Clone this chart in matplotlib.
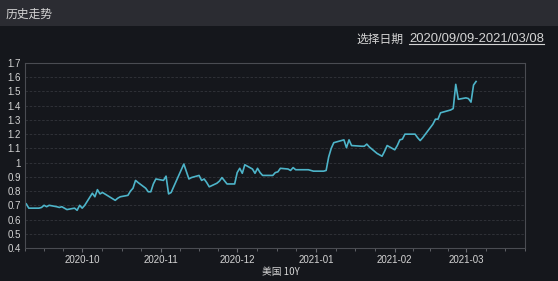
import matplotlib
matplotlib.use('Agg')
import matplotlib.pyplot as plt
import matplotlib.dates as mdates
from matplotlib.lines import Line2D
import numpy as np
import pandas as pd

plt.rcParams['font.family'] = ['Liberation Sans', 'Noto Sans CJK SC']

dates = [
    "2020-09-09", "2020-09-10", "2020-09-11", "2020-09-14", "2020-09-15", "2020-09-16",
    "2020-09-17", "2020-09-18", "2020-09-21", "2020-09-22", "2020-09-23", "2020-09-24",
    "2020-09-25", "2020-09-28", "2020-09-29", "2020-09-30", "2020-10-01", "2020-10-02",
    "2020-10-05", "2020-10-06", "2020-10-07", "2020-10-08", "2020-10-09", "2020-10-14",
    "2020-10-15", "2020-10-16", "2020-10-19", "2020-10-20", "2020-10-21", "2020-10-22",
    "2020-10-23", "2020-10-26", "2020-10-27", "2020-10-28", "2020-10-29", "2020-10-30",
    "2020-11-02", "2020-11-03", "2020-11-04", "2020-11-05", "2020-11-06", "2020-11-09",
    "2020-11-10", "2020-11-12", "2020-11-13", "2020-11-16", "2020-11-17", "2020-11-18",
    "2020-11-19", "2020-11-20", "2020-11-23", "2020-11-24", "2020-11-25", "2020-11-27",
    "2020-11-30", "2020-12-01", "2020-12-02", "2020-12-03", "2020-12-04", "2020-12-07",
    "2020-12-08", "2020-12-09", "2020-12-10", "2020-12-11", "2020-12-14", "2020-12-15",
    "2020-12-16", "2020-12-17", "2020-12-18", "2020-12-21", "2020-12-22", "2020-12-23",
    "2020-12-24", "2020-12-28", "2020-12-29", "2020-12-30", "2020-12-31", "2021-01-04",
    "2021-01-05", "2021-01-06", "2021-01-07", "2021-01-08", "2021-01-11", "2021-01-12",
    "2021-01-13", "2021-01-14", "2021-01-15", "2021-01-19", "2021-01-20", "2021-01-21",
    "2021-01-22", "2021-01-25", "2021-01-26", "2021-01-27", "2021-01-28", "2021-01-29",
    "2021-02-01", "2021-02-02", "2021-02-03", "2021-02-04", "2021-02-05", "2021-02-08",
    "2021-02-09", "2021-02-10", "2021-02-11", "2021-02-12", "2021-02-16", "2021-02-17",
    "2021-02-18", "2021-02-19", "2021-02-22", "2021-02-23", "2021-02-24", "2021-02-25",
    "2021-02-26", "2021-03-01", "2021-03-02", "2021-03-03", "2021-03-04", "2021-03-05",
]
yields_10y = [
    0.71, 0.68, 0.68, 0.68, 0.685, 0.70,
    0.69, 0.70, 0.69, 0.685, 0.69, 0.68,
    0.67, 0.68, 0.665, 0.70, 0.68, 0.70,
    0.785, 0.76, 0.81, 0.78, 0.79, 0.735,
    0.75, 0.76, 0.77, 0.80, 0.82, 0.875,
    0.86, 0.82, 0.795, 0.795, 0.85, 0.885,
    0.875, 0.905, 0.78, 0.79, 0.83, 0.95,
    0.99, 0.885, 0.895, 0.91, 0.875, 0.885,
    0.86, 0.83, 0.855, 0.87, 0.895, 0.85,
    0.85, 0.93, 0.96, 0.925, 0.985, 0.955,
    0.925, 0.96, 0.93, 0.91, 0.91, 0.91,
    0.93, 0.935, 0.96, 0.955, 0.945, 0.965,
    0.95, 0.95, 0.95, 0.945, 0.94, 0.94,
    0.945, 1.04, 1.10, 1.14, 1.155, 1.16,
    1.105, 1.16, 1.12, 1.115, 1.115, 1.13,
    1.11, 1.065, 1.055, 1.045, 1.08, 1.12,
    1.09, 1.12, 1.16, 1.165, 1.20, 1.20,
    1.20, 1.175, 1.155, 1.175, 1.27, 1.305,
    1.305, 1.35, 1.365, 1.37, 1.38, 1.55,
    1.445, 1.455, 1.45, 1.425, 1.545, 1.57,
]
series_name = "美国 10Y"
title = "历史走势"
date_label = "选择日期"
date_range = "2020/09/09-2021/03/08"

bg = '#15171c'
header = '#2b2c32'
txt = '#d4d4d4'

x = pd.to_datetime(dates)

fig = plt.figure(figsize=(5.58, 2.81), dpi=100, facecolor=bg)
fig.patches.append(plt.Rectangle((0, 1 - 26 / 281), 1, 26 / 281, transform=fig.transFigure,
                                 facecolor=header, edgecolor='none', zorder=0))
fig.text(6 / 558, 1 - 14 / 281, title, color=txt, fontsize=8.5, va='center',
         family=['Noto Sans CJK SC'])
fig.text(403 / 558, 1 - 39 / 281, date_label, color=txt, fontsize=8.5, va='center', ha='right',
         family=['Noto Sans CJK SC'])
t = fig.text(409 / 558, 1 - 39 / 281, date_range, color=txt, fontsize=9.4, va='center')

ax = fig.add_axes([25 / 558, 33 / 281, 500 / 558, 185 / 281])
ax.set_facecolor(bg)
ax.plot(x, yields_10y, color='#4db4c9', linewidth=1.2)

ax.set_ylim(0.4, 1.7)
ax.set_yticks(np.arange(0.4, 1.71, 0.1))
ax.set_yticklabels([f"{v:g}" for v in np.round(np.arange(0.4, 1.71, 0.1), 1)])
ax.set_xlim(pd.Timestamp("2020-09-09"), pd.Timestamp("2021-03-08"))

ax.xaxis.set_major_locator(mdates.MonthLocator())
ax.xaxis.set_major_formatter(mdates.DateFormatter('%Y-%m'))
minor = []
for m in pd.date_range("2020-09-01", "2021-03-01", freq='MS'):
    n = m.days_in_month
    for f in (0.25, 0.5, 0.75):
        minor.append(mdates.date2num(m) + f * n)
ax.set_xticks(minor, minor=True)

ax.grid(axis='y', color='#34363c', linestyle=(0, (3, 2)), linewidth=0.6)
for s in ax.spines.values():
    s.set_color('#4a4c52')
    s.set_linewidth(0.8)
ax.tick_params(axis='y', length=0, colors=txt, labelsize=7, pad=3)
ax.tick_params(axis='x', which='major', length=3, color='#6a6c72', colors=txt, labelsize=7, pad=2)
ax.tick_params(axis='x', which='minor', length=2.5, color='#6a6c72')
for lab in ax.get_xticklabels():
    lab.set_color(txt)

fig.text(281 / 558, 1 - 272 / 281, series_name, color=txt, fontsize=7, ha='center', va='center',
         family=['Noto Sans CJK SC'])

fig.canvas.draw()
bb = t.get_window_extent().transformed(fig.transFigure.inverted())
fig.add_artist(Line2D([bb.x0, bb.x1], [bb.y0 + 0.002, bb.y0 + 0.002], color=txt, linewidth=0.8,
                      transform=fig.transFigure))

fig.savefig("out.png", dpi=100, facecolor=bg)
